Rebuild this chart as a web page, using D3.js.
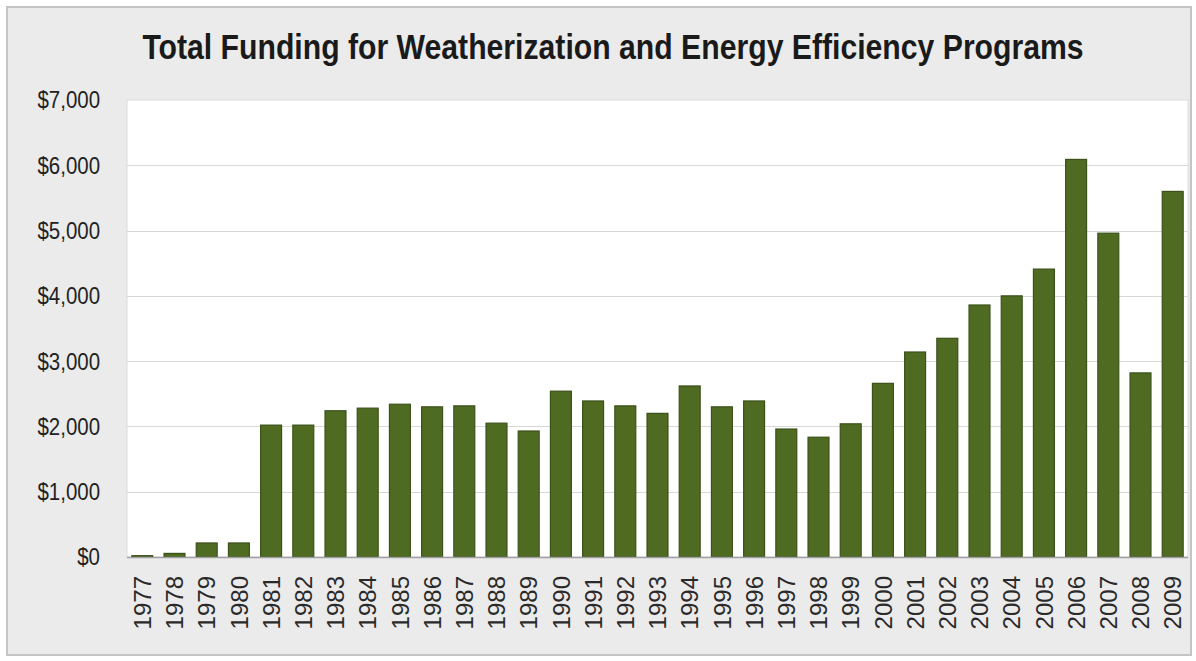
<!DOCTYPE html>
<html>
<head>
<meta charset="utf-8">
<script src="https://cdn.jsdelivr.net/npm/d3@7"></script>
<style>
  html, body { margin: 0; padding: 0; background: #fff; }
  svg { display: block; }
</style>
</head>
<body>
<script>
(function () {

    var w = 1196;
    var h = 661;

    // funding by year, $ millions
    var years = ["1977", "1978", "1979", "1980", "1981", "1982", "1983", "1984", "1985",
        "1986", "1987", "1988", "1989", "1990", "1991", "1992", "1993", "1994", "1995",
        "1996", "1997", "1998", "1999", "2000", "2001", "2002", "2003", "2004", "2005",
        "2006", "2007", "2008", "2009"];
    var funding = [20, 55, 215, 215, 2020, 2020, 2240, 2280, 2340,
        2300, 2315, 2050, 1930, 2540, 2390, 2315, 2200, 2620, 2300,
        2390, 1960, 1835, 2040, 2660, 3140, 3350, 3860, 4000, 4410,
        6090, 4960, 2820, 5600];
    var yTicks = [0, 1000, 2000, 3000, 4000, 5000, 6000, 7000];

    var plot = { left: 127, right: 1188, top: 100, bottom: 557 };

    var svg = d3.select("body").append("svg")
        .attr("width", w)
        .attr("height", h);

    // outer frame
    svg.append("rect")
        .attr("x", 7).attr("y", 7)
        .attr("width", 1184).attr("height", 648)
        .attr("fill", "#ebebeb")
        .attr("stroke", "#c4c4c4")
        .attr("stroke-width", 2);

    // plot area
    svg.append("rect")
        .attr("x", plot.left).attr("y", plot.top)
        .attr("width", plot.right - plot.left)
        .attr("height", plot.bottom - plot.top)
        .attr("fill", "#ffffff")
        .attr("stroke", "#dcdcdc")
        .attr("stroke-width", 1);

    var x = d3.scaleBand()
        .domain(years)
        .range([plot.left, plot.right])
        .paddingInner(0.35)
        .paddingOuter(0.15);

    var y = d3.scaleLinear()
        .domain([0, 7000])
        .range([plot.bottom, plot.top]);

    // grid lines
    svg.append("g")
        .selectAll("line")
        .data(yTicks.filter(function (d) { return d > 0 && d < 7000; }))
        .enter()
        .append("line")
        .attr("x1", plot.left)
        .attr("x2", plot.right)
        .attr("y1", function (d) { return Math.round(y(d)) + 0.5; })
        .attr("y2", function (d) { return Math.round(y(d)) + 0.5; })
        .attr("stroke", "#d8d8d8")
        .attr("stroke-width", 1.2);

    // bars
    svg.append("g")
        .selectAll("rect")
        .data(funding)
        .enter()
        .append("rect")
        .attr("x", function (d, i) { return x(years[i]); })
        .attr("y", function (d) { return y(d); })
        .attr("width", x.bandwidth())
        .attr("height", function (d) { return plot.bottom - y(d); })
        .attr("fill", "#4f6b22")
        .attr("stroke", "#3a5119")
        .attr("stroke-width", 1.2);

    // baseline
    svg.append("line")
        .attr("x1", plot.left).attr("x2", plot.right)
        .attr("y1", plot.bottom + 0.5).attr("y2", plot.bottom + 0.5)
        .attr("stroke", "#a0a0a0")
        .attr("stroke-width", 1.5);

    // y axis labels (narrow look of the original)
    var fmt = d3.format("$,");
    svg.append("g")
        .selectAll("text")
        .data(yTicks)
        .enter()
        .append("text")
        .attr("transform", function (d) { return "translate(100," + y(d) + ") scale(0.87,1)"; })
        .attr("dy", "0.36em")
        .attr("text-anchor", "end")
        .attr("font-family", "Liberation Sans, Arial, sans-serif")
        .attr("font-size", 23.5)
        .attr("fill", "#222")
        .text(function (d) { return fmt(d); });

    // x axis labels, rotated
    svg.append("g")
        .selectAll("text")
        .data(years)
        .enter()
        .append("text")
        .attr("transform", function (d) {
            return "translate(" + (x(d) + x.bandwidth() / 2) + ",576) rotate(-90)";
        })
        .attr("dy", "0.36em")
        .attr("text-anchor", "end")
        .attr("font-family", "Liberation Sans, Arial, sans-serif")
        .attr("font-size", 24)
        .attr("fill", "#2a2a2a")
        .text(function (d) { return d; });

    // title
    svg.append("text")
        .attr("transform", "translate(613,59) scale(0.875,1)")
        .attr("text-anchor", "middle")
        .attr("font-family", "Liberation Sans, Arial, sans-serif")
        .attr("font-weight", "bold")
        .attr("font-size", 34.5)
        .attr("fill", "#1a1a1a")
        .text("Total Funding for Weatherization and Energy Efficiency Programs");
})();
</script>
</body>
</html>
